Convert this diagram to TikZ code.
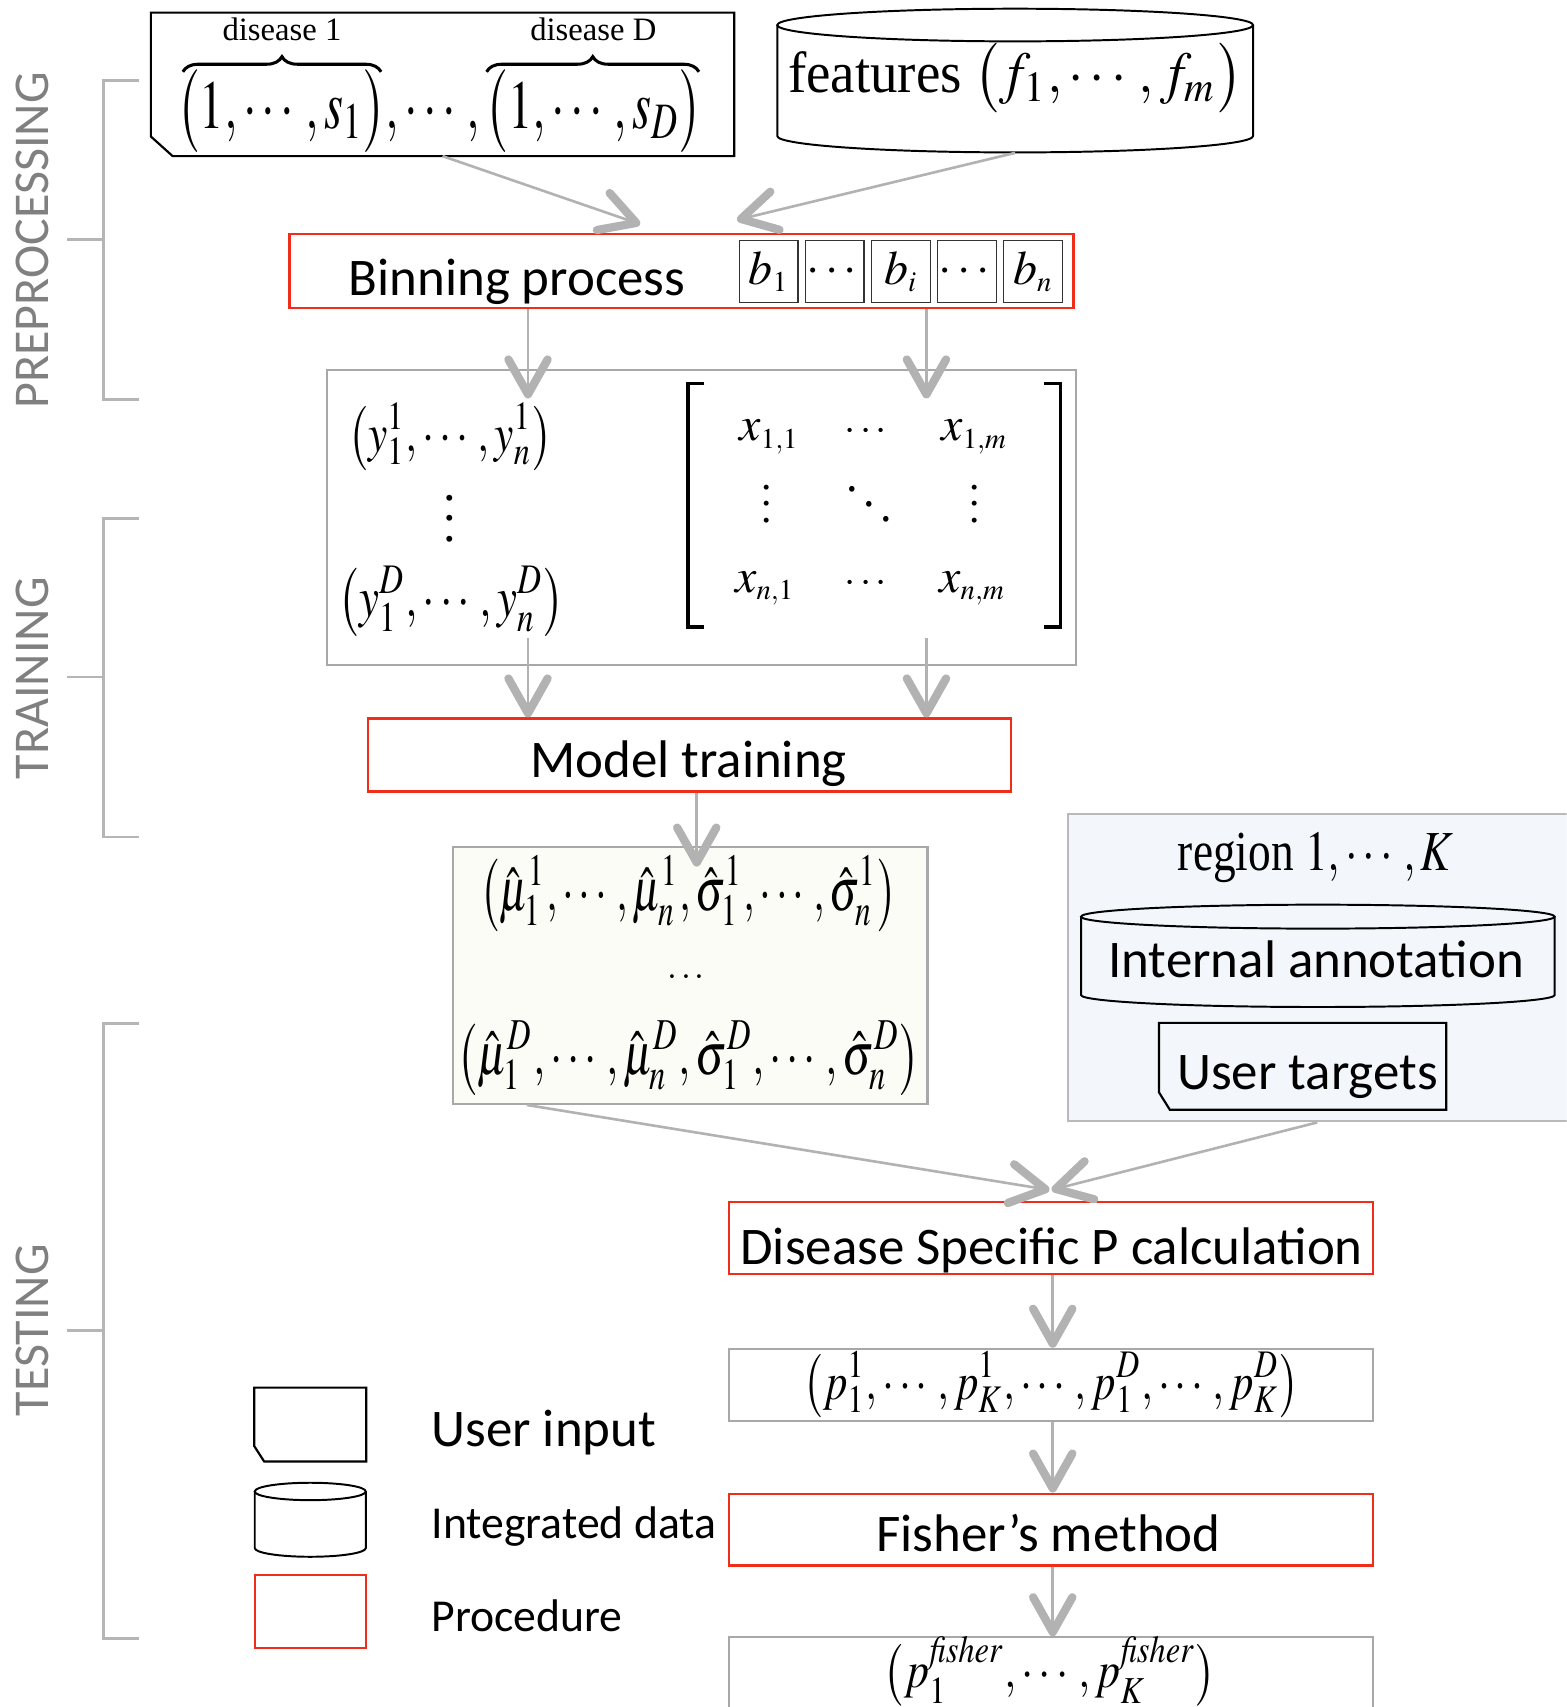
\documentclass[tikz,border=0pt]{standalone}
\usepackage{amsmath}
\usepackage{mathptmx}
\usepackage{graphicx}
\usepackage{fontspec}
\setmainfont{Liberation Serif}
\newfontfamily\calibri{Carlito}
\usetikzlibrary{arrows.meta, calc, decorations.pathreplacing, positioning}

\definecolor{procred}{RGB}{240,45,25}
\definecolor{boxgray}{RGB}{168,168,168}
\definecolor{arrgray}{RGB}{178,178,178}
\definecolor{sidegray}{RGB}{128,128,128}
\definecolor{creamfill}{RGB}{252,252,246}
\definecolor{regionfill}{RGB}{243,246,251}

\newcommand{\fitmath}[3]{\resizebox*{#1}{#2}{$\displaystyle #3$}}
\newcommand{\cutcorner}[3]{% node, dx, dy
  \draw[line width=1pt] (#1.north west) -- (#1.north east) -- (#1.south east)
    -- ([xshift=#2]#1.south west) -- ([yshift=#3]#1.south west) -- cycle;}
\newcommand{\drum}[5]{% left x, top y, right x, bottom y, ry (px)
  \draw[line width=0.9pt] (#1,#2) -- (#1,#4)
    arc[start angle=180, end angle=360, x radius={(#3-#1)/4*1pt}, y radius={#5/2*1pt}] -- (#3,#2);
  \draw[line width=0.9pt] ({(#1+#3)/2},#2) ellipse[x radius={(#3-#1)/4*1pt}, y radius={#5/2*1pt}];}

\begin{document}
\begin{tikzpicture}[x=0.5pt, y=-0.5pt,
  sans/.style={font=\calibri\fontsize{24.3}{29}\selectfont},
  proc/.style={draw=procred, line width=1pt, minimum height=33.5pt},
  result/.style={draw=boxgray, line width=1pt},
  cell/.style={draw=black!80, line width=0.6pt, minimum width=27pt, minimum height=28.5pt, inner sep=0pt, font=\fontsize{22}{26}\selectfont},
  entry/.style={anchor=base west, inner sep=0pt, font=\fontsize{22}{26}\selectfont},
  arr/.style={draw=arrgray, line width=1.2pt, -{Straight Barb[length=16pt, width=18pt, line width=3.8pt, round]}},
  brk/.style={draw=boxgray!85, line width=1.2pt},
  side/.style={font=\calibri\fontsize{23}{28}\selectfont, text=sidegray, rotate=90},
  fitted/.style={inner sep=0pt}]
\useasboundingbox (0,0) rectangle (1439,1568);
\clip (0,0) rectangle (1439,1568);

% stage brackets
\draw[brk] (128,74) -- (95,74) -- (95,367) -- (128,367);
\draw[brk] (62,220) -- (95,220);
\draw[brk] (128,476) -- (95,476) -- (95,769) -- (128,769);
\draw[brk] (62,622) -- (95,622);
\draw[brk] (128,940) -- (95,940) -- (95,1505) -- (128,1505);
\draw[brk] (62,1222) -- (95,1222);
\node[side] (pre) at (30,221) {PREPROCESSING};
\node[side] (tra) at (30,623) {TRAINING};
\node[side] (tes) at (30,1222) {TESTING};

% inputs
\node[minimum width=267.5pt, minimum height=65.5pt] (userin) at (406.5,77.5) {};
\cutcorner{userin}{10pt}{9pt}
\node[fitted] (spans) at (404,102) {\fitmath{241pt}{38pt}{\big(1,\cdots,s_1\big),\cdots,\big(1,\cdots,s_D\big)}};
\draw[line width=1.4pt, decorate, decoration={brace, amplitude=7pt}] (168,66) -- (350,66);
\draw[line width=1.4pt, decorate, decoration={brace, amplitude=7pt}] (447,66) -- (642,66);
\node[font=\fontsize{15}{18}\selectfont] (dis1) at (259,27) {disease 1};
\node[font=\fontsize{15}{18}\selectfont] (disD) at (545,27) {disease D};

\drum{714}{23}{1151}{125}{15}
\node[minimum width=218.5pt, minimum height=66pt] (feat) at (932.5,74) {};
\node[fitted] (featlab) at (932.5,72) {\fitmath{208.5pt}{32pt}{\text{features}\;\big(f_1,\cdots,f_m\big)}};

% binning
\node[proc, minimum width=360pt, minimum height=34pt] (binning) at (626,249) {};
\node[sans] (binlab) at (475,259) {Binning process};
\node[cell] (b1) at (706,249.5) {$b_{\scriptscriptstyle 1}$};
\node[cell, right=2.75pt of b1] (bd1) {$\cdots$};
\node[cell, right=2.75pt of bd1] (bi) {$b_{\scriptscriptstyle i}$};
\node[cell, right=2.75pt of bi] (bd2) {$\cdots$};
\node[cell, right=2.75pt of bd2] (bn) {$b_{\scriptscriptstyle n}$};

% labels and feature matrix
\node[result, minimum width=344pt, minimum height=135.5pt] (matbox) at (644,475.5) {};
\node[fitted] (yrow1) at (413.5,401) {\fitmath{93.5pt}{31pt}{\big(y_1^1,\cdots,y_n^1\big)}};
\node[fitted, anchor=base] (yvdots) at (413,497) {\resizebox*{!}{35pt}{$\vdots$}};
\node[fitted] (yrowD) at (414.5,552.5) {\fitmath{103.5pt}{32.5pt}{\big(y_1^D,\cdots,y_n^D\big)}};
\draw[line width=1.5pt] (647,352) -- (632,352) -- (632,576) -- (647,576);
\draw[line width=1.5pt] (959,352) -- (974,352) -- (974,576) -- (959,576);
\node[entry] (x11) at (679,405) {$x_{\scriptscriptstyle 1,1}$};
\node[entry] (x1m) at (864.5,405) {$x_{\scriptscriptstyle 1,m}$};
\node[entry] (xn1) at (675,544) {$x_{\scriptscriptstyle n,1}$};
\node[entry] (xnm) at (862.5,544) {$x_{\scriptscriptstyle n,m}$};
\node[fitted, anchor=base] (xc1) at (797.5,405) {\resizebox{21.5pt}{!}{$\cdots$}};
\node[fitted, anchor=base] (xcn) at (797.5,544) {\resizebox{21.5pt}{!}{$\cdots$}};
\node[fitted, anchor=base] (xv1) at (704.5,480) {\resizebox*{!}{29pt}{$\vdots$}};
\node[fitted, anchor=base] (xvm) at (895.5,480) {\resizebox*{!}{29pt}{$\vdots$}};
\node[fitted, anchor=base] (xdd) at (798.5,483.5) {\resizebox*{23pt}{34pt}{$\ddots$}};

% training
\node[proc, minimum width=295.5pt] (train) at (633.5,693.5) {};
\node[sans] (trainlab) at (632.5,701.5) {Model training};

\node[result, fill=creamfill, minimum width=218pt, minimum height=118pt] (mubox) at (634,896) {};
\node[fitted] (murow1) at (632.5,821) {\fitmath{191.5pt}{35pt}{\big(\hat{\mu}_1^1,\cdots,\hat{\mu}_n^1,\hat{\sigma}_1^1,\cdots,\hat{\sigma}_n^1\big)}};
\node[fitted] (mudots) at (632,898) {\resizebox{19pt}{!}{$\cdots$}};
\node[fitted] (murowD) at (632.5,972) {\fitmath{212.5pt}{34pt}{\big(\hat{\mu}_1^D,\cdots,\hat{\mu}_n^D,\hat{\sigma}_1^D,\cdots,\hat{\sigma}_n^D\big)}};

% regions
\node[draw=boxgray!80, line width=1pt, fill=regionfill, minimum width=239.5pt, minimum height=141pt] (region) at (1220.5,889) {};
\node[fitted] (reglab) at (1208.5,788) {\fitmath{126.5pt}{23pt}{\text{region }1,\cdots,K}};
\drum{993}{842}{1428}{914}{11}
\node[sans] (annot) at (1209,881) {Internal annotation};
\node[minimum width=131.5pt, minimum height=39.5pt] (targets) at (1196.5,979.5) {};
\cutcorner{targets}{5pt}{8pt}
\node[sans] (targlab) at (1201,989) {User targets};

% testing
\node[proc, minimum width=295.5pt, minimum height=33pt] (dsp) at (965.5,1137) {};
\node[sans] (dsplab) at (966,1149) {Disease Specific P calculation};
\node[result, inner sep=0pt, minimum width=295.5pt, minimum height=33pt] (pbox) at (965.5,1272) {\fitmath{227.5pt}{30.5pt}{\big(p_1^1,\cdots,p_K^1,\cdots,p_1^D,\cdots,p_K^D\big)}};
\node[proc, minimum width=295.5pt, minimum height=33pt] (fisher) at (965.5,1405) {};
\node[sans] (fishlab) at (963,1408) {Fisher’s method};
\node[result, anchor=north, minimum width=295.5pt, minimum height=70pt] (final) at (965.5,1503) {};
\node[fitted] (fishrow) at (964.5,1535) {\fitmath{152.5pt}{32pt}{\big(p_1^{\mathit{fisher}},\cdots,p_K^{\mathit{fisher}}\big)}};

% legend
\node[minimum width=51pt, minimum height=33.5pt] (leguser) at (285,1308.5) {};
\cutcorner{leguser}{4.5pt}{7pt}
\drum{234}{1370}{336}{1422}{8}
\node[draw=procred, line width=1pt, minimum width=51pt, minimum height=33.5pt] (legproc) at (285,1480.5) {};
\node[sans, anchor=west, inner sep=0pt] (legtxt1) at (396,1316) {User input};
\node[font=\calibri\fontsize{21}{25}\selectfont, anchor=west, inner sep=0pt] (legtxt2) at (396,1402) {Integrated data};
\node[font=\calibri\fontsize{21}{25}\selectfont, anchor=west, inner sep=0pt] (legtxt3) at (396,1484) {Procedure};

% connectors
\draw[arr] (userin.south) -- ([xshift=-19pt,yshift=4pt]binning.north);
\draw[arr] (feat.south) -- ([xshift=25.5pt,yshift=6pt]binning.north);
\draw[arr] ([xshift=-70.5pt]binning.south) -- ([xshift=-79.5pt,yshift=-13.5pt]matbox.north);
\draw[arr] ([xshift=112.5pt]binning.south) -- ([xshift=103.5pt,yshift=-13.5pt]matbox.north);
\draw[arr] ([xshift=-79.5pt,yshift=13pt]matbox.south) -- ([xshift=-74.25pt]train.north);
\draw[arr] ([xshift=103.5pt,yshift=13pt]matbox.south) -- ([xshift=108.75pt]train.north);
\draw[arr] ([xshift=3.25pt]train.south) -- ([xshift=3pt,yshift=-9.5pt]mubox.north);
\draw[arr] ([xshift=-75pt]mubox.south) -- ([xshift=-0.75pt,yshift=5pt]dsp.north);
\draw[arr] ([xshift=-5.25pt]region.south) -- ([xshift=0.25pt,yshift=5pt]dsp.north);
\draw[arr] ([xshift=0.75pt]dsp.south) -- ([xshift=0.75pt]pbox.north);
\draw[arr] ([xshift=0.75pt]pbox.south) -- ([xshift=0.75pt]fisher.north);
\draw[arr] ([xshift=0.75pt]fisher.south) -- ([xshift=0.75pt]final.north);
\end{tikzpicture}
\end{document}
